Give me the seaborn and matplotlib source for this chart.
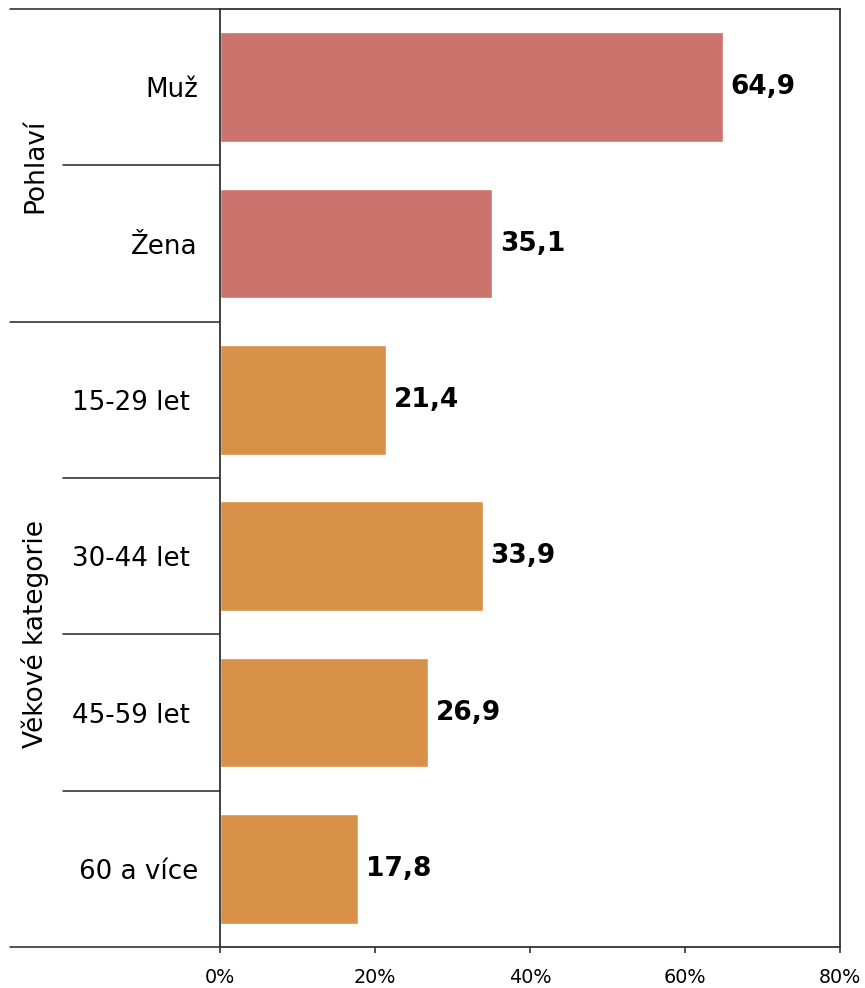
import pandas as pd
import matplotlib.pyplot as plt
import matplotlib.transforms as mtransforms
import seaborn as sns

# data
kategorie = ['Muž', 'Žena', '15-29 let ', '30-44 let ', '45-59 let ', '60 a více']
hodnoty = [64.9, 35.1, 21.4, 33.9, 26.9, 17.8]
skupiny = ['Pohlaví', 'Pohlaví', 'Věkové kategorie', 'Věkové kategorie',
           'Věkové kategorie', 'Věkové kategorie']
barvy = {'Pohlaví': '#cc736e', 'Věkové kategorie': '#d9914a'}
x_ticks = [0, 20, 40, 60, 80]

df = pd.DataFrame({'kategorie': kategorie, 'hodnota': hodnoty, 'skupina': skupiny})

sns.set_theme(style='white')
plt.rcParams['font.family'] = ['DejaVu Sans']
plt.rcParams['text.color'] = 'black'
plt.rcParams['xtick.color'] = 'black'
plt.rcParams['ytick.color'] = 'black'

fig = plt.figure(figsize=(8.65, 9.88), dpi=100)
ax = fig.add_axes([220 / 865, 1 - 947 / 988, 620 / 865, 938 / 988])

sns.barplot(data=df, x='hodnota', y='kategorie', hue='skupina', palette=barvy,
            dodge=False, width=0.7, orient='h', legend=False, ax=ax,
            saturation=1)

ax.set_xlim(0, 80)
ax.set_ylim(5.5, -0.5)
ax.set_xticks(x_ticks)
ax.set_xticklabels([f'{t}%' for t in x_ticks], fontsize=13.8)
ax.tick_params(axis='x', bottom=True, length=4, width=1.2, color='#333333', pad=11)
ax.tick_params(axis='y', left=False, pad=10, labelsize=18.8)
ax.set_xlabel('')
ax.set_ylabel('')

for s in ['left', 'right', 'top', 'bottom']:
    ax.spines[s].set_visible(True)
    ax.spines[s].set_color('#333333')
    ax.spines[s].set_linewidth(1.3)

# popisky hodnot
for i, v in enumerate(hodnoty):
    ax.text(v + 1.0, i, f'{v:.1f}'.replace('.', ','), va='center', ha='left',
            fontsize=19, fontweight='bold', color='black')

# oddělovací čáry vlevo od osy
trans = mtransforms.blended_transform_factory(ax.transAxes, ax.transData)
x_long = (10 - 220) / 620
x_short = (63 - 220) / 620
for yy, x0 in [(-0.5, x_long), (0.5, x_short), (1.5, x_long), (2.5, x_short),
               (3.5, x_short), (4.5, x_short), (5.5, x_long)]:
    ax.plot([x0, 0], [yy, yy], transform=trans, color='#222222', lw=1.1,
            clip_on=False)

# názvy skupin
x_grp = (35 - 220) / 620
ax.text(x_grp, 0.5, 'Pohlaví', transform=trans, rotation=90, va='center',
        ha='center', fontsize=19)
ax.text(x_grp, 3.5, 'Věkové kategorie', transform=trans, rotation=90,
        va='center', ha='center', fontsize=19)

fig.savefig('out.png', dpi=100)
